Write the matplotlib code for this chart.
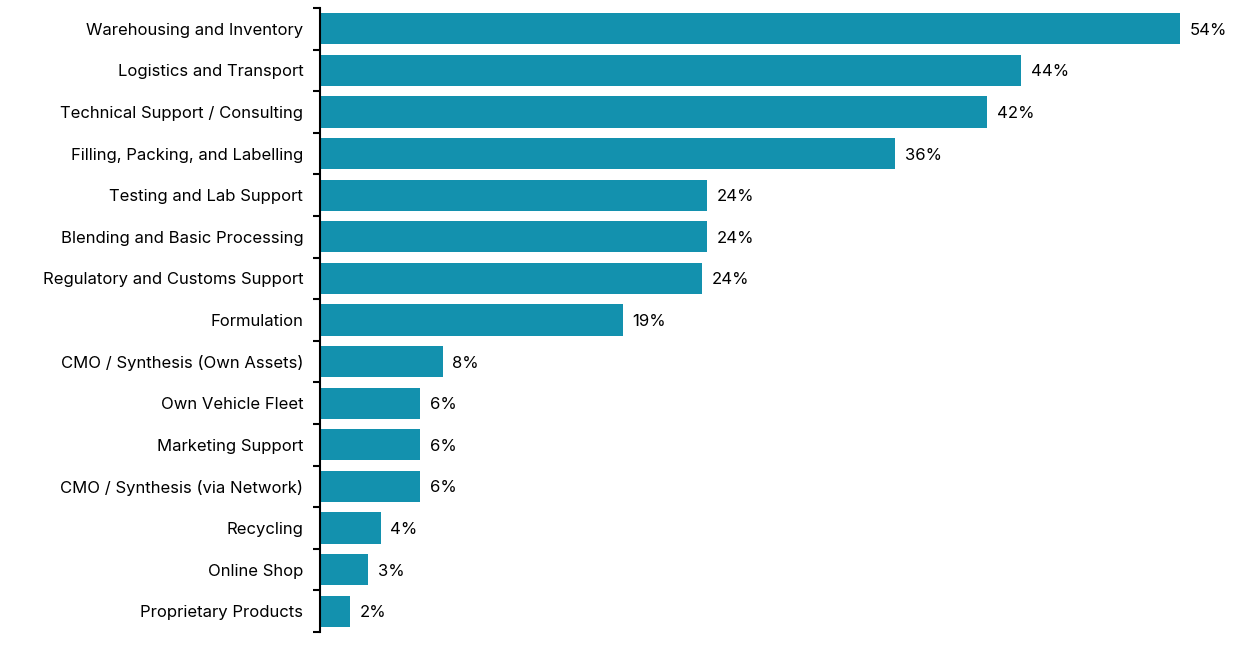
import matplotlib
matplotlib.use("Agg")
import matplotlib.pyplot as plt
import numpy as np

categories = [
    "Warehousing and Inventory",
    "Logistics and Transport",
    "Technical Support / Consulting",
    "Filling, Packing, and Labelling",
    "Testing and Lab Support",
    "Blending and Basic Processing",
    "Regulatory and Customs Support",
    "Formulation",
    "CMO / Synthesis (Own Assets)",
    "Own Vehicle Fleet",
    "Marketing Support",
    "CMO / Synthesis (via Network)",
    "Recycling",
    "Online Shop",
    "Proprietary Products",
]
values = [54.0, 44.0, 41.9, 36.1, 24.3, 24.3, 24.0, 19.0, 7.7, 6.3, 6.3, 6.3, 3.8, 3.0, 1.9]

plt.rcParams['font.family'] = ['Inter', 'DejaVu Sans']

fig = plt.figure(figsize=(12.43, 6.5), dpi=100)
ax = fig.add_axes([320 / 1243, 18 / 650, 916 / 1243, 624 / 650])

y = np.arange(len(categories))
bars = ax.barh(y, values, height=0.75, color="#1391ae")

for b, v in zip(bars, values):
    ax.annotate(f"{round(v)}%", (b.get_width(), b.get_y() + b.get_height() / 2),
                xytext=(7, 0), textcoords="offset points",
                va="center_baseline", ha="left", fontsize=12, color="black")

ax.set_xlim(0, 57.5)
ax.set_ylim(len(categories) - 0.5, -0.5)

ax.set_yticks(y)
ax.set_yticklabels(categories, fontsize=12)
ax.set_yticks(np.arange(-0.5, len(categories)), minor=True)
ax.tick_params(axis="y", which="major", length=0, pad=12)
ax.tick_params(axis="y", which="minor", length=5, width=1.5, direction="out")
ax.set_xticks([])

for s in ["top", "right", "bottom"]:
    ax.spines[s].set_visible(False)
ax.spines["left"].set_linewidth(1.5)

fig.savefig("out.png", dpi=100)
